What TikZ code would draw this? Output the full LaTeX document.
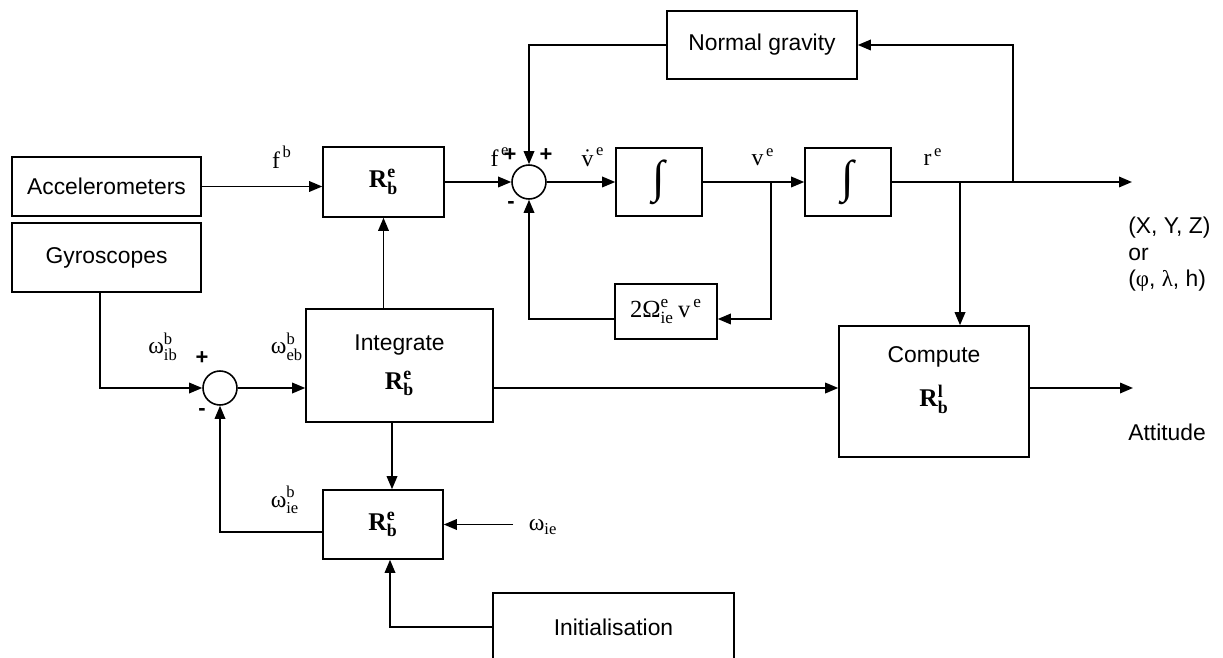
\documentclass[tikz,border=0pt]{standalone}
\usepackage{amsmath}
\usepackage{fontspec}
\setmainfont{Liberation Serif}
\setsansfont{Liberation Sans}
\usepackage{xcolor}
\definecolor{cLine}{HTML}{000000}
\usepackage{tikz}
\usetikzlibrary{arrows.meta,calc}
\tikzset{
  node-box/.style={draw=cLine,line width=0.9pt,inner sep=0pt,align=center,
    font=\sffamily\fontsize{13}{15}\selectfont},
  node-mat/.style={font=\rmfamily\fontsize{14.5}{16}\selectfont},
  node-sum/.style={draw=cLine,line width=0.9pt,circle,minimum size=6.8mm,inner sep=0pt},
  node-txt/.style={inner sep=0pt,align=center,font=\sffamily\fontsize{13}{15}\selectfont},
  out-txt/.style={inner sep=0pt,anchor=west,align=left,font=\sffamily\fontsize{13}{15}\selectfont},
  sig/.style={inner sep=0pt,font=\rmfamily\fontsize{13.5}{15}\selectfont},
  sign/.style={inner sep=0pt,font=\sffamily\bfseries\fontsize{12.5}{14}\selectfont},
  arrow/.style={-{Triangle[length=2.6mm,width=2.1mm]},line width=1pt,draw=cLine},
}
% rotation matrix R^{sup}_{sub}
\newcommand{\Rmat}[2]{\textbf{R}^{\textbf{#1}}_{\textbf{#2}}}
\newcommand{\Intsym}{{\rmfamily\fontsize{26}{28}\selectfont ∫}}

\begin{document}
\begin{tikzpicture}[x=0.02cm,y=-0.02cm]
  \useasboundingbox (0,0) rectangle (1223,658);
  \clip (0,0) rectangle (1223,658);
  % sensors
  \node[node-box,minimum width=3.78cm,minimum height=1.18cm] (acc) at (106.5,186.5) {Accelerometers};
  \node[node-box,minimum width=3.78cm,minimum height=1.38cm] (gyro) at (106.5,257.5) {Gyroscopes};
  % velocity / position chain
  \node[node-box,node-mat,minimum width=2.42cm,minimum height=1.4cm] (rtop) at (383.5,182) {$\Rmat{e}{b}$};
  \node[node-sum] (sum-f) at (529,182) {};
  \node[node-box,node-mat,minimum width=1.72cm,minimum height=1.36cm] (int-v) at (659,182) {\Intsym};
  \node[node-box,node-mat,minimum width=1.72cm,minimum height=1.36cm] (int-r) at (848,182) {\Intsym};
  \node[node-box,minimum width=3.8cm,minimum height=1.36cm] (grav) at (762,45) {Normal gravity};
  \node[node-box,node-mat,font=\rmfamily\fontsize{14}{16}\selectfont,minimum width=2.04cm,minimum height=1.1cm] (cor) at (666,311.5)
    {$\text{2Ω}^{\text{e}}_{\text{ie}}\,\text{v}^{\,\text{e}}$};
  % attitude chain
  \node[node-sum] (sum-w) at (220,388) {};
  \node[node-box,minimum width=3.74cm,minimum height=2.26cm] (intg) at (399.5,365.5)
    {Integrate\\[7pt]{\rmfamily\fontsize{14.5}{16}\selectfont$\Rmat{e}{b}$}};
  \node[node-box,node-mat,minimum width=2.4cm,minimum height=1.38cm] (rbot) at (383,524.5) {$\Rmat{e}{b}$};
  \node[node-box,minimum width=3.8cm,minimum height=2.62cm] (comp) at (934,391.5) {};
  \node[node-txt] (comp-txt) at (934,380) {Compute\\[9pt]{\rmfamily\fontsize{14.5}{16}\selectfont$\Rmat{l}{b}$}};
  \node[node-box,minimum width=4.82cm,minimum height=1.36cm] (init) at (613.5,627) {Initialisation};

  \coordinate (br-v) at (771,182);
  \coordinate (br-r) at (960,182);
  \coordinate (br-g) at (1013,182);
  \coordinate (pos-out) at (1132,182);
  \coordinate (att-out) at (1133,388);
  \coordinate (wie-in) at (513,524.5);

  % signal labels
  \node[sig] (lbl-fb) at (282,157) {$\text{f}^{\,\text{b}}$};
  \node[sig] (lbl-fe) at (500,157) {$\text{f}^{\,\text{e}}$};
  \node[sig] (lbl-vd) at (593,157) {$\dot{\text{v}}^{\,\text{e}}$};
  \node[sig] (lbl-v) at (763,157) {$\text{v}^{\,\text{e}}$};
  \node[sig] (lbl-r) at (933,157) {$\text{r}^{\,\text{e}}$};
  \node[sig] (lbl-wib) at (163,347) {$\text{ω}^{\text{b}}_{\text{ib}}$};
  \node[sig] (lbl-web) at (287,347) {$\text{ω}^{\text{b}}_{\text{eb}}$};
  \node[sig] (lbl-wieb) at (285,500) {$\text{ω}^{\text{b}}_{\text{ie}}$};
  \node[sig] (lbl-wie) at (543,527) {$\text{ω}_{\text{ie}}$};
  \node[sign] (sf-a) at (510,155) {+};
  \node[sign] (sf-b) at (546,155) {+};
  \node[sign] (sf-c) at (511,205) {-};
  \node[sign] (sw-a) at (202,358) {+};
  \node[sign] (sw-b) at (202,412) {-};

  % outputs
  \node[out-txt] (pos-txt) at (1128,254.5) {(X, Y, Z)\\or\\({\rmfamily φ}, {\rmfamily λ}, h)};
  \node[out-txt] (att-txt) at (1128,432) {Attitude};

  % connectors
  \draw[arrow] (acc.east) -- (acc.east -| rtop.west);
  \draw[arrow] (rtop.east) -- (sum-f.west);
  \draw[arrow] (sum-f.east) -- (int-v.west);
  \draw[arrow] (int-v.east) -- (int-r.west);
  \draw[arrow] (int-r.east) -- (pos-out);
  \draw[arrow] (br-g) |- (grav.east);
  \draw[arrow] (grav.west) -| (sum-f.north);
  \draw[arrow] (br-v) |- ([yshift=-0.15cm]cor.east);
  \draw[arrow] ([yshift=-0.15cm]cor.west) -| (sum-f.south);
  \draw[arrow] (br-r) -- (br-r |- comp.north);
  \draw[arrow] (comp.east |- att-out) -- (att-out);
  \draw[arrow] (intg.east |- att-out) -- (comp.west |- att-out);
  \draw[arrow] (rtop.south |- intg.north) -- (rtop.south);
  \draw[arrow] ([xshift=-0.15cm]intg.south) -- ([xshift=-0.15cm]intg.south |- rbot.north);
  \draw[arrow] ([xshift=-0.13cm]gyro.south) |- (sum-w.west);
  \draw[arrow] (sum-w.east) -- (sum-w.east -| intg.west);
  \draw[arrow] ([yshift=-0.15cm]rbot.west) -| (sum-w.south);
  \draw[arrow] (wie-in) -- (rbot.east);
  \draw[arrow] (init.west) -| ([xshift=0.14cm]rbot.south);
\end{tikzpicture}
\end{document}
